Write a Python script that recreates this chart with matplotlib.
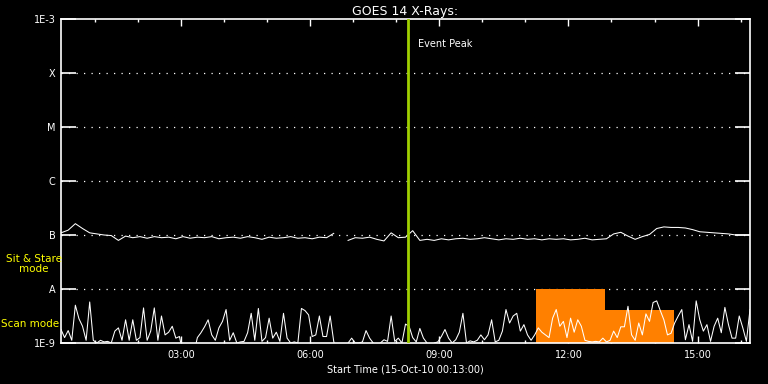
import numpy as np
import matplotlib
matplotlib.use('Agg')
import matplotlib.pyplot as plt

# start of plot window: 15-Oct-10 00:13:00, 16 hours shown
t_start = 13 / 60.
t_span = 16.

# long-channel flux (log10 W/m^2), 10 minute cadence, nan = data gap
flux_log = [-6.96, -6.91, -6.79, -6.88, -6.96, -6.98, -7.00, -7.01, -7.10, -7.02,
            -7.05, -7.03, -7.06, -7.03, -7.05, -7.04, -7.07, -7.03, -7.06, -7.04,
            -7.05, -7.03, -7.07, -7.05, -7.04, -7.06, -7.03, -7.05, -7.08, -7.04,
            -7.06, -7.05, -7.03, -7.06, -7.05, -7.07, -7.04, -7.05, -6.97, np.nan,
            -7.10, -7.05, -7.06, -7.04, -7.08, -7.11, -6.96, -7.05, -7.04, -6.92,
            -7.10, -7.08, -7.10, -7.07, -7.09, -7.07, -7.06, -7.08, -7.07, -7.05,
            -7.07, -7.09, -7.07, -7.08, -7.06, -7.08, -7.07, -7.09, -7.07, -7.08,
            -7.07, -7.09, -7.08, -7.06, -7.09, -7.08, -7.07, -6.98, -6.95, -7.02,
            -7.08, -7.03, -6.99, -6.88, -6.85, -6.86, -6.86, -6.87, -6.90, -6.94,
            -6.95, -6.96, -6.97, -6.98, -7.00, -7.00, -7.00]

# scan-mode signal, decades above 1E-9, 5 minute cadence
scan_level = [0.25, 0.1, 0.23, 0.05, 0.70, 0.45, 0.31, 0.05, 0.76, 0.05,
              0.0, 0.05, 0.02, 0.03, 0.0, 0.22, 0.28, 0.05, 0.43, 0.05,
              0.43, 0.05, 0.1, 0.65, 0.05, 0.22, 0.65, 0.05, 0.5, 0.15,
              0.2, 0.31, 0.09, 0.12, -0.2, -0.2, -0.2, -0.2, 0.1, 0.19,
              0.3, 0.43, 0.15, 0.05, 0.28, 0.4, 0.62, 0.05, 0.19,
              0.0, 0.02, 0.03, 0.19, 0.55, 0.05, 0.64, 0.03, 0.1, 0.46,
              0.09, 0.2, 0.03, 0.55, 0.09, 0.0, 0.02, 0.0, 0.64, 0.6,
              0.52, 0.12, 0.15, 0.5, 0.12, 0.12, 0.5, 0.03, -0.2, -0.2,
              -0.2, 0.0, 0.09, 0.0, 0.0, 0.02, 0.23, 0.09, 0.0, -0.1,
              0.0, 0.06, 0.03, 0.5, 0.03, 0.09, 0.0, 0.35,
              0.31, 0.1, 0.02, 0.27, 0.09, 0.0, -0.1, 0.0, 0.02, 0.12,
              0.25, 0.09, 0.0, 0.06, 0.2, 0.55, 0.0, 0.04, 0.02, 0.05,
              0.15, 0.06, 0.15, 0.43, 0.02, 0.05, 0.22, 0.62, 0.37, 0.5,
              0.55, 0.22, 0.34, 0.15, 0.05, 0.15, 0.28, 0.2, 0.15, 0.1,
              0.46, 0.62, 0.31, 0.4, 0.1, 0.46, 0.2, 0.43,
              0.31, 0.05, 0.03, 0.02, 0.03, 0.02, 0.09, 0.02, 0.05, 0.22,
              0.1, 0.3, 0.3, 0.68, 0.15, 0.05, 0.37, 0.15, 0.54, 0.4,
              0.75, 0.78, 0.6, 0.43, 0.15, 0.18, 0.37, 0.5, 0.62, 0.06,
              0.34, 0.03, 0.78, 0.43, 0.22, 0.34, 0.03, 0.31, 0.46, 0.19,
              0.66, 0.34, 0.09, 0.09, 0.5, 0.28, 0.03, 0.62]

# scan mode blocks (hours of day) and their level
block_start = [11.25, 12.86]
block_end = [12.86, 14.46]
block_top = [1.0e-8, 4.1e-9]

event_peak = 8.28

ytick_vals = [1e-9, 1e-8, 1e-7, 1e-6, 1e-5, 1e-4, 1e-3]
ytick_labels = ['1E-9', 'A', 'B', 'C', 'M', 'X', '1E-3']
xtick_vals = [3, 6, 9, 12, 15]
xtick_labels = ['03:00', '06:00', '09:00', '12:00', '15:00']

t_flux = t_start + np.arange(len(flux_log)) * 10 / 60.
t_scan = t_start + np.arange(len(scan_level)) * 5 / 60.
flux = 10 ** np.array(flux_log)
scan = 1e-9 * 10 ** np.array(scan_level)

plt.rcParams['font.family'] = 'DejaVu Sans'
fig = plt.figure(figsize=(7.68, 3.84), dpi=100, facecolor='black')
ax = fig.add_axes([61 / 768, 41 / 384, 689 / 768, 324 / 384])
ax.set_facecolor('black')
ax.set_yscale('log')
ax.set_ylim(1e-9, 1e-3)
ax.set_xlim(t_start, t_start + t_span)

# dotted class lines
for y in ytick_vals[1:-1]:
    ax.axhline(y, color='white', lw=0.9, ls=(0, (1, 5)), zorder=1)

ax.bar(block_start, np.array(block_top) - 1e-9, width=np.array(block_end) - np.array(block_start),
       bottom=1e-9, align='edge', color='#ff8000', zorder=2)

ax.plot(t_scan, scan, color='white', lw=0.75, zorder=3)
ax.plot(t_flux, flux, color='white', lw=0.75, zorder=3)

ax.axvline(event_peak, color='#a0d000', lw=2, zorder=4)
ax.text(event_peak + 0.22, 3.5e-4, 'Event Peak', color='white', fontsize=7, va='center')

for s in ax.spines.values():
    s.set_color('white')
    s.set_linewidth(1.2)

ax.set_yticks(ytick_vals)
ax.set_yticklabels(ytick_labels)
ax.yaxis.set_minor_locator(matplotlib.ticker.NullLocator())
ax.set_xticks(xtick_vals)
ax.set_xticklabels(xtick_labels)
ax.set_xticks(np.arange(1, 17), minor=True)
ax.tick_params(axis='y', which='major', direction='in', length=11, width=1.2,
               colors='white', labelsize=7, left=True, right=True, pad=4)
ax.tick_params(axis='x', which='major', direction='in', length=5, width=1,
               colors='white', labelsize=7, top=True, bottom=True, pad=5)
ax.tick_params(axis='x', which='minor', direction='in', length=2.5, width=1,
               colors='white', top=True, bottom=True)

ax.set_xlabel('Start Time (15-Oct-10 00:13:00)', color='white', fontsize=7, labelpad=3)
ax.set_title('GOES 14 X-Rays:', color='white', fontsize=9, pad=3)

fig.text(34 / 768, 1 - 264 / 384, 'Sit & Stare\nmode', color='yellow', fontsize=7.5,
         ha='center', va='center', linespacing=1.1)
fig.text(1 / 768, 1 - 324 / 384, 'Scan mode', color='yellow', fontsize=7.5,
         ha='left', va='center')

fig.savefig('out.png', dpi=100, facecolor='black')
